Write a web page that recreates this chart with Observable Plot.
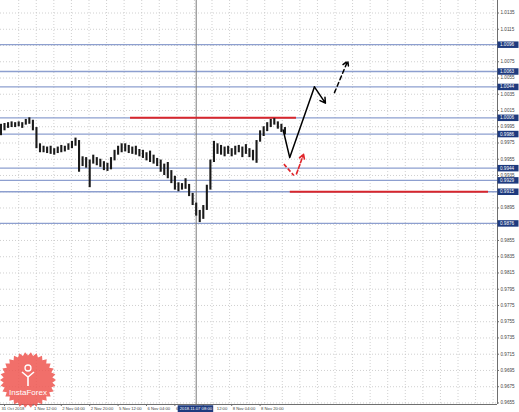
<!DOCTYPE html>
<html><head><meta charset="utf-8">
<script src="https://cdn.jsdelivr.net/npm/d3@7"></script>
<script src="https://cdn.jsdelivr.net/npm/@observablehq/plot@0.6"></script>
<style>
html,body{margin:0;padding:0;background:#fff;}
#wrap{position:relative;width:519px;height:412px;overflow:hidden;}
#logo{position:absolute;left:0;top:350px;pointer-events:none;}
</style></head><body><div id="wrap"></div>
<script>
// ---- data (bar index = hourly bars, 0 = 31 Oct 20:00) ----
const highs = [0.9998,0.9999,1.0000,1.0001,1.0000,1.0001,1.0000,1.0004,1.0006,1.0003,
  0.9994,0.9974,0.9971,0.9970,0.9971,0.9968,0.9970,0.9972,0.9971,0.9974,0.9977,0.9981,
  0.9978,0.9958,0.9957,0.9954,0.9960,0.9957,0.9955,0.9952,0.9950,0.9957,
  0.9966,0.9971,0.9974,0.9974,0.9972,0.9970,0.9971,0.9967,0.9966,0.9963,
  0.9965,0.9960,0.9956,0.9954,0.9949,0.9951,0.9941,0.9934,0.9926,0.9925,
  0.9931,0.9924,0.9913,0.9901,0.9892,0.9898,0.9923,0.9954,0.9977,0.9974,
  0.9972,0.9970,0.9971,0.9968,0.9971,0.9972,0.9970,0.9973,0.9968,0.9966,
  0.9978,0.9990,0.9995,1.0000,1.0004,1.0005,1.0001,0.9998,0.9994];
const lows = [0.9984,0.9990,0.9993,0.9994,0.9994,0.9995,0.9993,0.9997,0.9998,0.9990,
  0.9968,0.9963,0.9963,0.9962,0.9961,0.9960,0.9962,0.9963,0.9964,0.9966,0.9968,0.9971,
  0.9939,0.9946,0.9944,0.9920,0.9949,0.9947,0.9945,0.9941,0.9940,0.9942,
  0.9953,0.9960,0.9963,0.9964,0.9962,0.9961,0.9960,0.9958,0.9956,0.9953,
  0.9951,0.9949,0.9946,0.9939,0.9935,0.9931,0.9925,0.9917,0.9915,0.9917,
  0.9918,0.9909,0.9898,0.9885,0.9877,0.9881,0.9892,0.9917,0.9951,0.9961,
  0.9960,0.9958,0.9961,0.9958,0.9960,0.9963,0.9957,0.9961,0.9957,0.9953,
  0.9950,0.9976,0.9983,0.9989,0.9994,0.9997,0.9992,0.9988,0.9985];
const firstBar = -2, barStep = 2;

const levels = [1.0096, 1.0063, 1.0044, 1.0006, 0.9986, 0.9944, 0.9929, 0.9915, 0.9876];
const redLevels = [
  {price: 1.0006, from: 71, to: 164.5},
  {price: 0.9915, from: 161, to: 272.7}
];
const projBars   = [157, 160.7, 174.6, 180.8];
const projPrices = [0.9991, 0.9957, 1.0044, 1.0024];
const dashBars   = [185.9, 193.4];
const dashPrices = [1.0037, 1.0076];
const redVBars   = [157.4, 163.0, 164.5, 168.5];
const redVPrices = [0.9949, 0.9935, 0.9937, 0.9961];
const vLineBar = 108, vLineLabel = "2018.11.07 08:00";

const yTicks = [0.9655,0.9675,0.9695,0.9715,0.9735,0.9755,0.9775,0.9795,0.9815,0.9835,0.9855,
  0.9875,0.9895,0.9915,0.9935,0.9955,0.9975,0.9995,1.0015,1.0035,1.0055,1.0075,1.0095,1.0115,1.0135];
const xTickBars = [0,16,32,48,64,80,96,112,128,144];
// ticks 96 and 112 are partly covered by the vertical line's date label: only "6" and "12:00" show
const xTickLabels = ["31 Oct 2018","1 Nov 12:00","2 Nov 04:00","2 Nov 20:00","5 Nov 12:00",
  "6 Nov 04:00","6","12:00","8 Nov 04:00","8 Nov 20:00"];
const xTickShift = [-4,0,0,0,0,0,0,12.5,0,0];
const gridBars = [8,17.9,27.8,37.7,47.6,57.5,67.4,77.3,87.2,97.1,107,116.9,126.8,136.7,146.6,156.5,
  166.4,176.3,186.2,196.1,206,215.9,225.8,235.7,245.6,255.5,265.4,275.3];

// ---- layout ----
const W=519,H=412,mL=0,mR=22,mT=0,mB=8;
const X0=-2.254, X1=277.75, Y0=0.96531, Y1=1.01504;
const bpp=(X1-X0)/(W-mL-mR), ppp=(Y1-Y0)/(H-mT-mB);

const bars = highs.map((h,i)=>({bar: firstBar + i*barStep, high: h, low: lows[i]}));
const proj = projBars.map((b,i)=>({bar:b, price:projPrices[i]}));
const xl = xTickBars.map((b,i)=>({bar:b, label:xTickLabels[i], shift: xTickShift[i]}));
const navy = "#1e3a7e";
const yLab = Y0 - 4.2*ppp;

const chart = Plot.plot({
  width: W, height: H, marginLeft: mL, marginRight: mR, marginTop: mT, marginBottom: mB,
  x: {domain: [X0, X1], axis: null},
  y: {domain: [Y0, Y1], axis: null},
  style: {fontFamily: "'Liberation Sans', Arial, sans-serif", background: "#fff"},
  marks: [
    Plot.ruleY(yTicks, {stroke: "#c4c4c4", strokeWidth: 0.8, strokeDasharray: "1,2"}),
    Plot.ruleX(gridBars, {stroke: "#c4c4c4", strokeWidth: 0.8, strokeDasharray: "1,2"}),
    Plot.ruleY(levels, {stroke: "#8d9fcf", strokeWidth: 1.3}),
    Plot.ruleX([vLineBar], {stroke: "#7a7a7a", strokeWidth: 1}),
    Plot.ruleY(redLevels, {y: "price", x1: "from", x2: "to", stroke: "#d8262c", strokeWidth: 2}),
    Plot.ruleX(bars, {x: "bar", y1: "low", y2: "high", stroke: "#1a1a1a", strokeWidth: 2.1}),
    Plot.line(proj.slice(0,3), {x: "bar", y: "price", stroke: "#000", strokeWidth: 1.5}),
    Plot.arrow([0], {x1: ()=>projBars[2], y1: ()=>projPrices[2], x2: ()=>projBars[3], y2: ()=>projPrices[3],
      stroke: "#000", strokeWidth: 1.5, headLength: 6}),
    Plot.arrow([0], {x1: ()=>dashBars[0], y1: ()=>dashPrices[0], x2: ()=>dashBars[1], y2: ()=>dashPrices[1],
      stroke: "#000", strokeWidth: 1.5, strokeDasharray: "4,3", headLength: 6}),
    Plot.link([0], {x1: ()=>redVBars[0], y1: ()=>redVPrices[0], x2: ()=>redVBars[1], y2: ()=>redVPrices[1],
      stroke: "#e0262b", strokeWidth: 1.6, strokeDasharray: "4,2"}),
    Plot.arrow([0], {x1: ()=>redVBars[2], y1: ()=>redVPrices[2], x2: ()=>redVBars[3], y2: ()=>redVPrices[3],
      stroke: "#e0262b", strokeWidth: 1.6, strokeDasharray: "4,2", headLength: 5}),
    // axes frame
    Plot.ruleX([X1], {stroke: "#6f6f6f", strokeWidth: 1}),
    Plot.ruleY([Y0], {stroke: "#6f6f6f", strokeWidth: 1}),
    Plot.ruleY(yTicks, {x1: ()=>X1, x2: ()=>X1 + 2*bpp, stroke: "#6f6f6f"}),
    Plot.text(yTicks, {x: ()=>X1 + 3*bpp, y: d=>d, text: d=>d.toFixed(4), textAnchor: "start",
      fontSize: 4.6, fill: "#444"}),
    Plot.ruleY(levels, {x1: ()=>X1 + 0.5*bpp, x2: ()=>X1 + 21.5*bpp, stroke: navy, strokeWidth: 6.5}),
    Plot.text(levels, {x: ()=>X1 + 2.5*bpp, y: d=>d, text: d=>d.toFixed(4), textAnchor: "start",
      fontSize: 4.6, fill: "#fff"}),
    Plot.ruleX(xTickBars, {y1: ()=>Y0, y2: ()=>Y0 - 2*ppp, stroke: "#6f6f6f"}),
    Plot.text(xl, {x: d => d.bar + (1 + d.shift)*bpp, y: ()=>yLab, text: "label", textAnchor: "start",
      fontSize: 4.2, fill: "#444"}),
    Plot.ruleY([0], {y: ()=>yLab, x1: ()=>vLineBar - 18*bpp, x2: ()=>vLineBar + 17.5*bpp,
      stroke: navy, strokeWidth: 7}),
    Plot.text([vLineLabel], {x: ()=>vLineBar - 0.3*bpp, y: ()=>yLab, text: d=>d, fontSize: 4.2, fill: "#fff"})
  ]
});
const wrap = document.getElementById("wrap");
wrap.appendChild(chart);

// InstaForex watermark (decoration)
const ns = "http://www.w3.org/2000/svg";
const logo = document.createElementNS(ns, "svg");
logo.setAttribute("id","logo"); logo.setAttribute("width", 58); logo.setAttribute("height", 60);
const cx = 28, cy = 30, n = 30;
const pts = d3.range(n*2).map(i => {
  const r = i % 2 ? 24.5 : 28, a = Math.PI * i / n;
  return [cx + r*Math.cos(a), cy + r*Math.sin(a)].join(",");
}).join(" ");
logo.innerHTML = `<polygon points="${pts}" fill="#ef5650" fill-opacity="0.85"/>
  <circle cx="28" cy="18" r="3" fill="none" stroke="#fff" stroke-width="1.3"/>
  <path d="M22 22 L28 27 L34 22 M28 27 L28 36" fill="none" stroke="#fff" stroke-width="1.6"/>
  <text x="28" y="45" text-anchor="middle" fill="#fff" font-size="8" font-family="Liberation Sans, Arial">InstaForex</text>`;
wrap.appendChild(logo);
</script></body></html>
